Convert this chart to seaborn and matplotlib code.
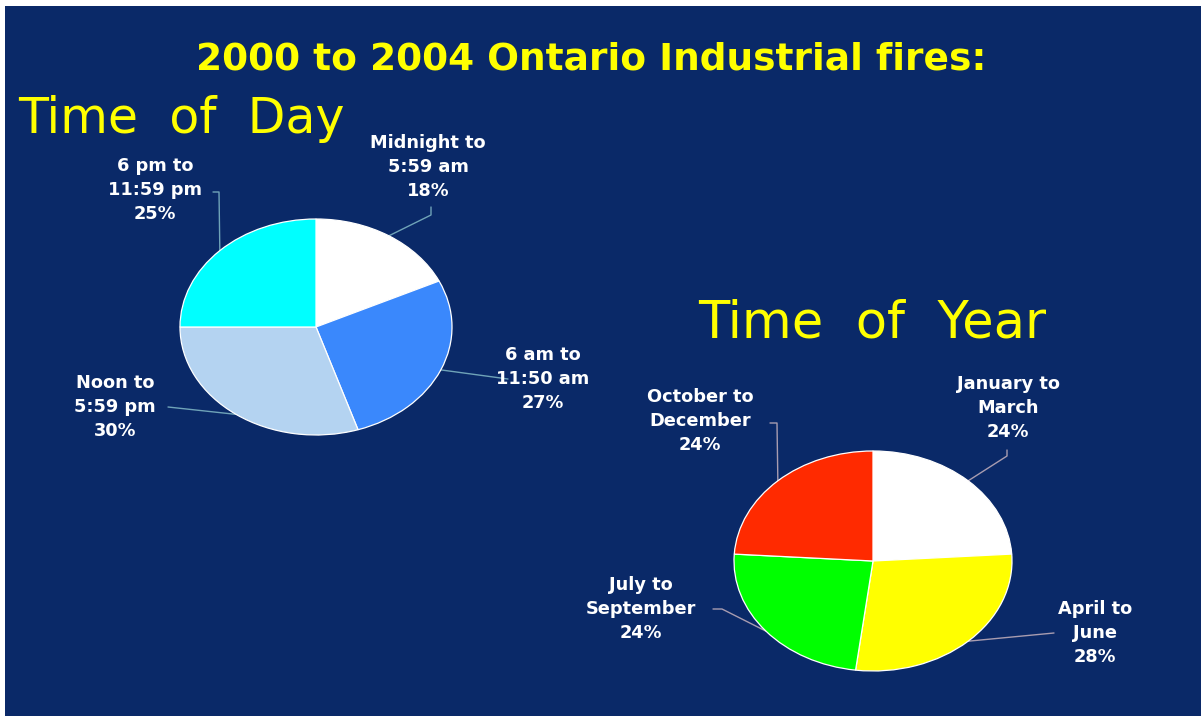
import numpy as np
import matplotlib
matplotlib.use("Agg")
import matplotlib.pyplot as plt
import seaborn as sns

# ---- data -------------------------------------------------------------
day_labels = ["Midnight to\n5:59 am", "6 am to\n11:50 am", "Noon to\n5:59 pm", "6 pm to\n11:59 pm"]
day_values = [18, 27, 30, 25]
day_colors = ["#ffffff", "#3a88fc", "#b4d3f1", "#00ffff"]

year_labels = ["January to\nMarch", "April to\nJune", "July to\nSeptember", "October to\nDecember"]
year_values = [24, 28, 24, 24]
year_colors = ["#ffffff", "#ffff00", "#00ff00", "#ff2a00"]

title_text = "2000 to 2004 Ontario Industrial fires:"
day_heading = "Time  of  Day"
year_heading = "Time  of  Year"

# ---- style ------------------------------------------------------------
sns.set_style("white")
plt.rcParams["font.family"] = ["DejaVu Sans"]

NAVY = "#0a2968"
YELLOW = "#ffff00"
W, H = 1201, 716

fig = plt.figure(figsize=(W / 100, H / 100), dpi=100, facecolor="white")

# overlay axes in pixel coordinates (origin top-left)
over = fig.add_axes([0, 0, 1, 1])
over.set_xlim(0, W)
over.set_ylim(H, 0)
over.axis("off")
over.add_patch(plt.Rectangle((5, 6), W - 5, H - 6, facecolor=NAVY, edgecolor="none", zorder=0))


def pie_axes(cx, cy, rx, ry, values, colors):
    ax = fig.add_axes([(cx - rx) / W, (H - cy - ry) / H, 2 * rx / W, 2 * ry / H])
    pal = sns.color_palette(colors)
    wedges, _ = ax.pie(values, colors=pal, startangle=90, counterclock=False,
                       wedgeprops=dict(edgecolor="white", linewidth=0.9))
    ax.set_aspect("auto")
    ax.set_xlim(-1, 1)
    ax.set_ylim(-1, 1)
    ax.axis("off")
    # anchor point on the rim at each wedge's middle angle, in pixels
    anchors = []
    for w in wedges:
        mid = np.deg2rad((w.theta1 + w.theta2) / 2)
        anchors.append((cx + rx * np.cos(mid), cy - ry * np.sin(mid)))
    return anchors


day_anchor = pie_axes(316, 327, 136, 108, day_values, day_colors)
year_anchor = pie_axes(873, 561, 139, 110, year_values, year_colors)

# ---- headings ---------------------------------------------------------
over.text(591, 70, title_text, color=YELLOW, fontsize=27, fontweight="bold",
          ha="center", va="baseline", zorder=5)
over.text(18, 133, day_heading, color=YELLOW, fontsize=35.3, ha="left", va="baseline", zorder=5)
over.text(698, 338, year_heading, color=YELLOW, fontsize=36.8, ha="left", va="baseline", zorder=5)

# ---- slice labels with leader lines ----------------------------------
# (label centre, elbow points from label side towards the rim)
day_layout = [
    ((428, 167), [(431, 207), (431, 215)]),
    ((543, 379), [(508, 379)]),
    ((115, 407), [(168, 407)]),
    ((155, 190), [(213, 192), (219, 192)]),
]
year_layout = [
    ((1008, 408), [(1007, 450), (1007, 456)]),
    ((1095, 633), [(1054, 633)]),
    ((641, 609), [(713, 609), (722, 609)]),
    ((700, 421), [(770, 423), (777, 423)]),
]


def draw_labels(labels, values, anchors, layout, line_color):
    for lab, val, anc, ((tx, ty), elbow) in zip(labels, values, anchors, layout):
        over.text(tx, ty, f"{lab}\n{val}%", color="white", fontsize=12.8, fontweight="bold",
                  ha="center", va="center", multialignment="center", linespacing=1.45, zorder=5)
        pts = elbow + [anc]
        xs, ys = zip(*pts)
        over.plot(xs, ys, color=line_color, lw=1.0, zorder=4)


draw_labels(day_labels, day_values, day_anchor, day_layout, "#6fa3b8")
draw_labels(year_labels, year_values, year_anchor, year_layout, "#a89cb0")

fig.savefig("out.png", dpi=100, facecolor=fig.get_facecolor())
